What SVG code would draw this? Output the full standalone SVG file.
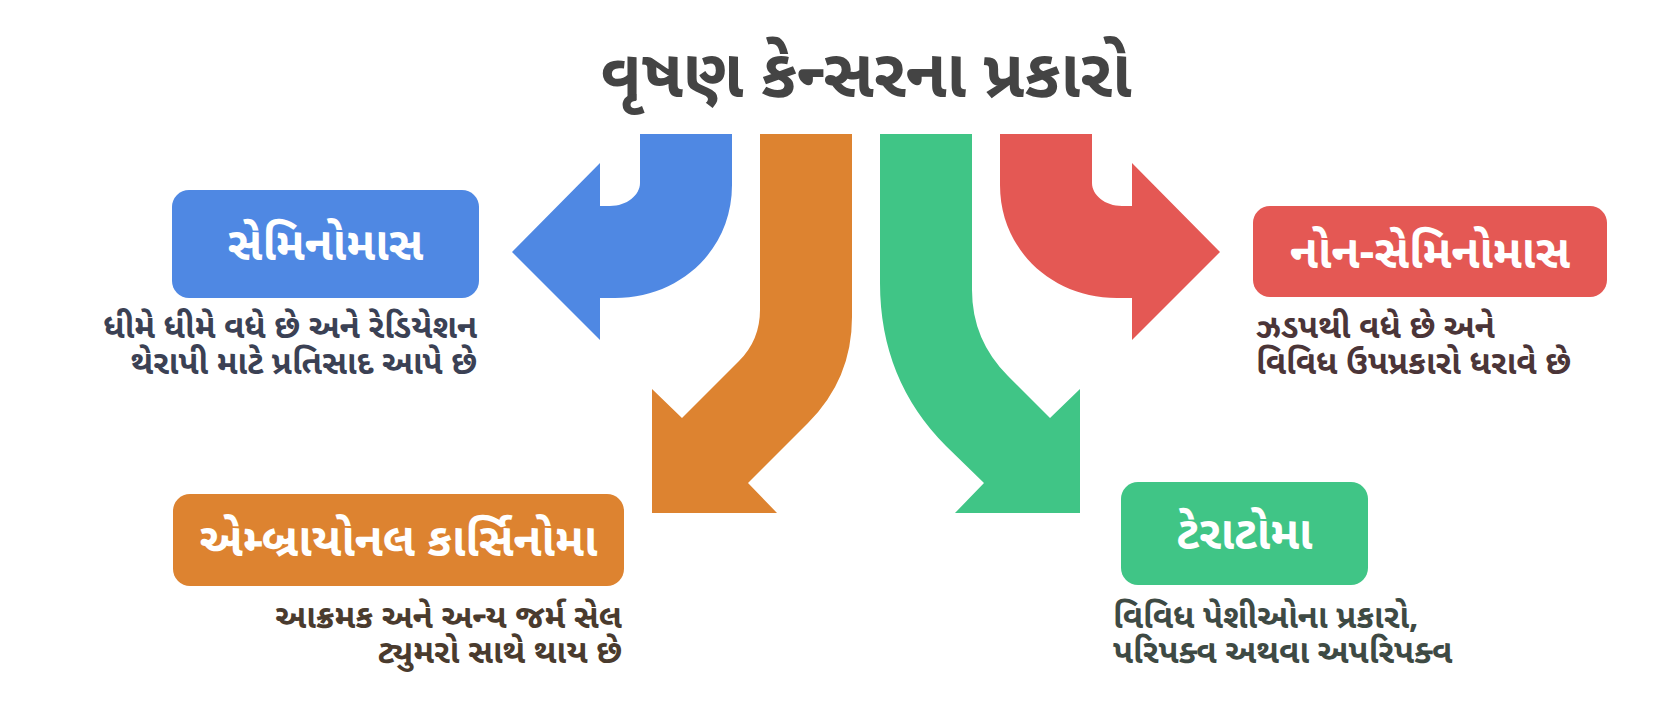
<svg xmlns="http://www.w3.org/2000/svg" width="1674" height="722" viewBox="0 0 1674 722">
<style>
text{font-family:"Noto Sans Gujarati","Noto Sans","Liberation Sans",sans-serif;font-weight:700}
.title{font-size:67px;fill:#444444;text-anchor:middle}
.lbl{font-size:46px;fill:#ffffff;text-anchor:middle}
.desc{font-size:33px}
</style>
<rect width="1674" height="722" fill="#ffffff"/>
<text class="title" x="866" y="97">વૃષણ કેન્સરના પ્રકારો</text>
<g id="connectors">
<path id="arrow-blue" fill="#4F88E3" d="M640,134 L732,134 L732,185 C732,250 680,298 615,298 L600,298 L600,340 L512,252 L600,163 L600,206 L610,206 C627,206 640,195 640,183 Z"/>
<path id="arrow-orange" fill="#DD8330" d="M760,134 L852,134 L852,317 Q852,379 808,423 L748,483 L777,513 L652,513 L652,389 L682,418 L739,361 Q760,340 760,310 Z"/>
<path id="arrow-green" fill="#40C586" d="M880,134 L972,134 L972,290 Q972,340 1008,376 L1050,418 L1080,389 L1080,513 L955,513 L984,483 L946,446 Q880,380 880,283 Z"/>
<path id="arrow-red" fill="#E45854" d="M1092,134 L1000,134 L1000,185 C1000,250 1052,298 1117,298 L1132,298 L1132,340 L1220,252 L1132,163 L1132,206 L1122,206 C1105,206 1092,195 1092,183 Z"/>
</g>
<g id="node-seminoma">
<rect x="172" y="190" width="307" height="108" rx="17" fill="#4F88E3"/>
<text class="lbl" x="325.5" y="260">સેમિનોમાસ</text>
<text class="desc" fill="#3B4154" text-anchor="end"><tspan x="477" y="338">ધીમે ધીમે વધે છે અને રેડિયેશન</tspan><tspan x="477" y="374">થેરાપી માટે પ્રતિસાદ આપે છે</tspan></text>
</g>
<g id="node-nonseminoma">
<rect x="1253" y="206" width="354" height="91" rx="17" fill="#E45854"/>
<text class="lbl" x="1430" y="268">નોન-સેમિનોમાસ</text>
<text class="desc" fill="#4B3538"><tspan x="1256" y="338">ઝડપથી વધે છે અને</tspan><tspan x="1256" y="374">વિવિધ ઉપપ્રકારો ધરાવે છે</tspan></text>
</g>
<g id="node-embryonal">
<rect x="173" y="494" width="451" height="92" rx="17" fill="#DD8330"/>
<text class="lbl" x="398.5" y="556">એમ્બ્રાયોનલ કાર્સિનોમા</text>
<text class="desc" fill="#4A3B2E" text-anchor="end"><tspan x="622" y="628">આક્રમક અને અન્ય જર્મ સેલ</tspan><tspan x="622" y="663">ટ્યુમરો સાથે થાય છે</tspan></text>
</g>
<g id="node-teratoma">
<rect x="1121" y="482" width="247" height="103" rx="17" fill="#40C586"/>
<text class="lbl" x="1244.5" y="549">ટેરાટોમા</text>
<text class="desc" fill="#3E4A44"><tspan x="1113" y="628">વિવિધ પેશીઓના પ્રકારો,</tspan><tspan x="1113" y="663">પરિપક્વ અથવા અપરિપક્વ</tspan></text>
</g>
</svg>
